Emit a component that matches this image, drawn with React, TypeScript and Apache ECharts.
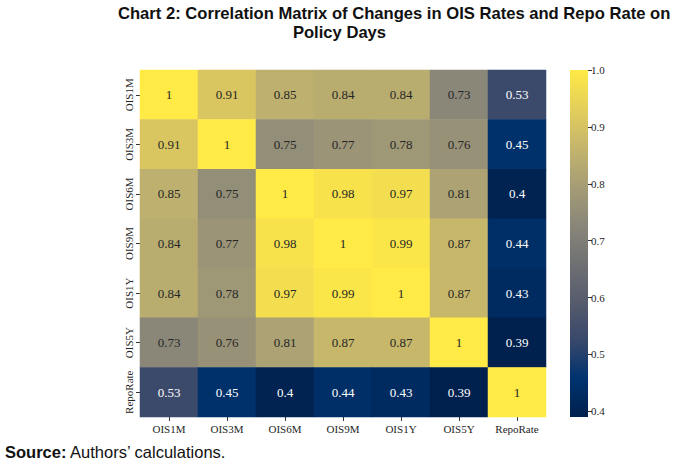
import React, { useEffect, useRef } from "react";
import * as echarts from "echarts";

const labels = ["OIS1M", "OIS3M", "OIS6M", "OIS9M", "OIS1Y", "OIS5Y", "RepoRate"];
const matrix: number[][] = [
  [1, 0.91, 0.85, 0.84, 0.84, 0.73, 0.53],
  [0.91, 1, 0.75, 0.77, 0.78, 0.76, 0.45],
  [0.85, 0.75, 1, 0.98, 0.97, 0.81, 0.4],
  [0.84, 0.77, 0.98, 1, 0.99, 0.87, 0.44],
  [0.84, 0.78, 0.97, 0.99, 1, 0.87, 0.43],
  [0.73, 0.76, 0.81, 0.87, 0.87, 1, 0.39],
  [0.53, 0.45, 0.4, 0.44, 0.43, 0.39, 1],
];
const colorbarTicks = [0.4, 0.5, 0.6, 0.7, 0.8, 0.9, 1.0];
const vMin = 0.39;
const vMax = 1.0;
const cividis = [
  "#00204D", "#00336F", "#39486B", "#575C6D", "#707173",
  "#8A8779", "#A69D75", "#C4B56C", "#E4CF5B", "#FFEA46",
];
const titleLine1 = "Chart 2: Correlation Matrix of Changes in OIS Rates and Repo Rate on";
const titleLine2 = "Policy Days";

export default function App() {
  const ref = useRef<HTMLDivElement>(null);
  useEffect(() => {
    if (!ref.current) return;
    const chart = echarts.init(ref.current, undefined, { renderer: "svg" });
    const data: any[] = [];
    matrix.forEach((row, yi) => {
      row.forEach((v, xi) => {
        data.push({
          value: [xi, yi, v],
          label: { color: v < 0.6 ? "#ffffff" : "#262626" },
        });
      });
    });
    const serif = "'Liberation Serif', 'Times New Roman', serif";
    const sans = "'Liberation Sans', Arial, sans-serif";
    chart.setOption({
      animation: false,
      backgroundColor: "#ffffff",
      grid: [
        { left: 140, right: 133, top: 70, bottom: 47 },
        { left: 570, width: 18, top: 70, bottom: 47 },
      ],
      xAxis: [
        {
          type: "category",
          gridIndex: 0,
          data: labels,
          axisLine: { show: false },
          axisTick: { show: true, alignWithLabel: true, length: 4, lineStyle: { color: "#333" } },
          axisLabel: { interval: 0, fontFamily: serif, fontSize: 11, color: "#262626", margin: 6 },
          splitArea: { show: false },
        },
        {
          type: "category",
          gridIndex: 1,
          data: ["cb"],
          show: false,
        },
      ],
      yAxis: [
        {
          type: "category",
          gridIndex: 0,
          data: labels,
          inverse: true,
          axisLine: { show: false },
          axisTick: { show: true, interval: 0, alignWithLabel: true, length: 4, lineStyle: { color: "#333" } },
          axisLabel: {
            interval: 0,
            fontFamily: serif,
            fontSize: 11,
            color: "#262626",
            rotate: 90,
            margin: 6,
          },
          splitArea: { show: false },
        },
        {
          type: "value",
          gridIndex: 1,
          position: "right",
          min: vMin,
          max: vMax,
          axisLine: { show: false },
          splitLine: { show: false },
          axisTick: {
            show: true,
            length: 4,
            customValues: colorbarTicks,
            lineStyle: { color: "#333" },
          },
          axisLabel: {
            fontFamily: serif,
            fontSize: 11,
            color: "#262626",
            margin: 3,
            customValues: colorbarTicks,
            formatter: (v: number) => v.toFixed(1),
          },
        },
      ],
      visualMap: {
        show: false,
        seriesIndex: 0,
        min: vMin,
        max: vMax,
        dimension: 2,
        inRange: { color: cividis },
      },
      series: [
        {
          type: "heatmap",
          xAxisIndex: 0,
          yAxisIndex: 0,
          data,
          label: { show: true, fontFamily: serif, fontSize: 13 },
          itemStyle: { borderWidth: 0 },
        },
        {
          type: "bar",
          xAxisIndex: 1,
          yAxisIndex: 1,
          data: [vMax],
          barWidth: "100%",
          itemStyle: {
            color: new echarts.graphic.LinearGradient(
              0, 1, 0, 0,
              cividis.map((c, i) => ({ offset: i / (cividis.length - 1), color: c }))
            ),
          },
        },
      ],
      graphic: [
        {
          type: "text",
          left: 118,
          top: 5,
          style: {
            text: titleLine1,
            font: `bold 16.6px ${sans}`,
            fill: "#111111",
          },
        },
        {
          type: "text",
          top: 24,
          left: "center",
          style: {
            text: titleLine2,
            font: `bold 16.6px ${sans}`,
            fill: "#111111",
          },
        },
        {
          type: "text",
          left: 5,
          top: 443,
          style: {
            rich: {
              b: { fontFamily: sans, fontWeight: "bold", fontSize: 16.5, fill: "#111111" },
              n: { fontFamily: sans, fontSize: 16.5, fill: "#111111" },
            },
            text: "{b|Source:}{n| Authors\u2019 calculations.}",
          },
        },
      ],
    });
    return () => chart.dispose();
  }, []);
  return (
    <div
      ref={ref}
      style={{ position: "fixed", left: 0, top: 0, width: 679, height: 464 }}
    />
  );
}
